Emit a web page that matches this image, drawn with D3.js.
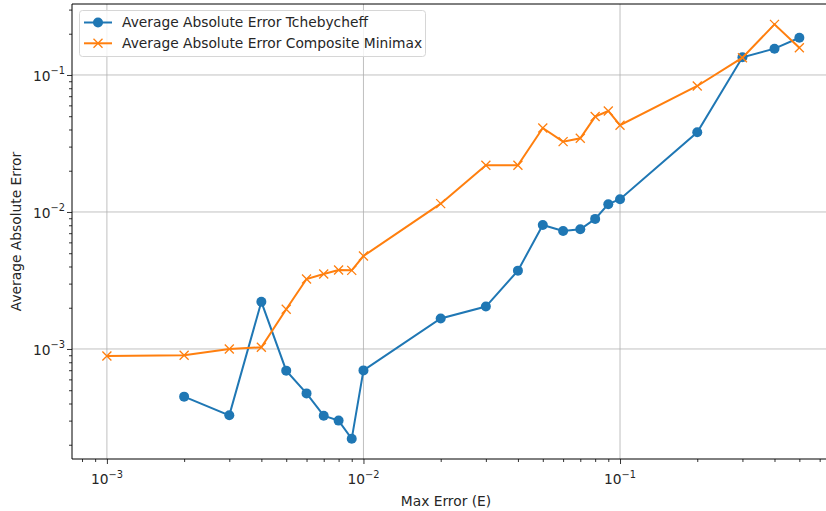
<!DOCTYPE html>
<html>
<head>
<meta charset="utf-8">
<script src="https://cdn.jsdelivr.net/npm/d3@7"></script>
<style>
  html, body { margin: 0; padding: 0; background: #fff; }
  svg { display: block; font-family: "DejaVu Sans", sans-serif; }
</style>
</head>
<body>
<svg id="chart" width="826" height="511"></svg>
<script>
// Max error thresholds (E) for each series
const xTcheb = [0.002, 0.003, 0.004, 0.005, 0.006, 0.007, 0.008, 0.009, 0.01,
                0.02, 0.03, 0.04, 0.05, 0.06, 0.07, 0.08, 0.09, 0.1, 0.2, 0.3, 0.4, 0.5];
const yTcheb = [4.49e-4, 3.28e-4, 2.21e-3, 6.95e-4, 4.74e-4, 3.26e-4, 3.0e-4, 2.21e-4, 6.98e-4,
                1.67e-3, 2.04e-3, 3.73e-3, 8.03e-3, 7.27e-3, 7.48e-3, 8.9e-3, 1.14e-2, 1.24e-2,
                3.82e-2, 0.1345, 0.1556, 0.187];

const xMinimax = [0.001, 0.002, 0.003, 0.004, 0.005, 0.006, 0.007, 0.008, 0.009, 0.01,
                  0.02, 0.03, 0.04, 0.05, 0.06, 0.07, 0.08, 0.09, 0.1, 0.2, 0.3, 0.4, 0.5];
const yMinimax = [8.89e-4, 8.99e-4, 1.0e-3, 1.03e-3, 1.95e-3, 3.24e-3, 3.53e-3, 3.77e-3, 3.75e-3, 4.77e-3,
                  1.15e-2, 2.19e-2, 2.19e-2, 4.1e-2, 3.26e-2, 3.45e-2, 4.97e-2, 5.46e-2, 4.3e-2,
                  8.31e-2, 0.1337, 0.234, 0.158];

const seriesNames = ["Average Absolute Error Tchebycheff", "Average Absolute Error Composite Minimax"];
const xMajorExps = [-3, -2, -1];
const yMajorExps = [-3, -2, -1];

const svg = d3.select("#chart");
const plotLeft = 72, plotRight = 834, plotTop = 4, plotBottom = 459;
const fontSize = 13.8;

const x = d3.scaleLog().domain([Math.pow(10, -3.136), Math.pow(10, -0.166)]).range([plotLeft, plotRight]);
const y = d3.scaleLog().domain([Math.pow(10, -3.803), Math.pow(10, -0.482)]).range([plotBottom, plotTop]);

const blue = "#1f77b4", orange = "#ff7f0e";

// minor tick values (2..9 x 10^k) inside each domain
function minorTicks(scale) {
  const [a, b] = scale.domain();
  const out = [];
  for (let k = Math.floor(Math.log10(a)); k <= Math.ceil(Math.log10(b)); k++) {
    for (let m = 2; m <= 9; m++) {
      const v = m * Math.pow(10, k);
      if (v >= a && v <= b) out.push(v);
    }
  }
  return out;
}

// grid lines on major decades
const grid = svg.append("g").attr("stroke", "#b0b0b0").attr("stroke-width", 0.8);
xMajorExps.forEach(e => {
  const px = x(Math.pow(10, e));
  grid.append("line").attr("x1", px).attr("x2", px).attr("y1", plotTop).attr("y2", plotBottom);
});
yMajorExps.forEach(e => {
  const py = y(Math.pow(10, e));
  grid.append("line").attr("x1", plotLeft).attr("x2", plotRight).attr("y1", py).attr("y2", py);
});

// axes
const xAxis = d3.axisBottom(x).tickValues(xMajorExps.map(e => Math.pow(10, e))).tickSize(5).tickFormat("");
const xMinor = d3.axisBottom(x).tickValues(minorTicks(x)).tickSize(3).tickFormat("");
const yAxis = d3.axisLeft(y).tickValues(yMajorExps.map(e => Math.pow(10, e))).tickSize(5).tickFormat("");
const yMinor = d3.axisLeft(y).tickValues(minorTicks(y)).tickSize(3).tickFormat("");

function styleAxis(g) {
  g.select(".domain").remove();
  g.selectAll(".tick line").attr("stroke", "#000").attr("stroke-width", 0.8);
}
svg.append("g").attr("transform", `translate(0,${plotBottom})`).call(xAxis).call(styleAxis);
svg.append("g").attr("transform", `translate(0,${plotBottom})`).call(xMinor).call(styleAxis);
svg.append("g").attr("transform", `translate(${plotLeft},0)`).call(yAxis).call(styleAxis);
svg.append("g").attr("transform", `translate(${plotLeft},0)`).call(yMinor).call(styleAxis);

// tick labels as 10^n
function powerLabel(g, px, py, exp, anchor) {
  const t = g.append("text").attr("x", px).attr("y", py).attr("text-anchor", anchor)
    .attr("font-size", fontSize).attr("fill", "#262626");
  t.append("tspan").text("10");
  t.append("tspan").attr("dy", -6.5).attr("font-size", 9.8).text("\u2212" + Math.abs(exp));
}
const lbl = svg.append("g");
xMajorExps.forEach(e => powerLabel(lbl, x(Math.pow(10, e)), 484, e, "middle"));
yMajorExps.forEach(e => powerLabel(lbl, 65, y(Math.pow(10, e)) + 6, e, "end"));

// spines
svg.append("g").attr("fill", "none").attr("stroke", "#000").attr("stroke-width", 1)
  .selectAll("line").data([
    [plotLeft, plotTop, plotLeft, plotBottom], [plotLeft, plotBottom, plotRight, plotBottom],
    [plotLeft, plotTop, plotRight, plotTop], [plotRight, plotTop, plotRight, plotBottom]
  ]).join("line")
  .attr("x1", d => d[0]).attr("y1", d => d[1]).attr("x2", d => d[2]).attr("y2", d => d[3]);

// axis titles
svg.append("text").attr("x", 446).attr("y", 506).attr("text-anchor", "middle")
  .attr("font-size", fontSize).attr("fill", "#262626").text("Max Error (E)");
svg.append("text").attr("transform", `translate(21,${(plotTop + plotBottom) / 2}) rotate(-90)`)
  .attr("text-anchor", "middle").attr("font-size", fontSize).attr("fill", "#262626").text("Average Absolute Error");

// series
const line = d3.line().x(d => x(d[0])).y(d => y(d[1]));
const tcheb = xTcheb.map((v, i) => [v, yTcheb[i]]);
const minimax = xMinimax.map((v, i) => [v, yMinimax[i]]);

const plot = svg.append("g");
plot.append("path").datum(tcheb).attr("d", line).attr("fill", "none").attr("stroke", blue).attr("stroke-width", 2);
plot.selectAll("circle.tcheb").data(tcheb).join("circle").attr("class", "tcheb")
  .attr("cx", d => x(d[0])).attr("cy", d => y(d[1])).attr("r", 5).attr("fill", blue);

plot.append("path").datum(minimax).attr("d", line).attr("fill", "none").attr("stroke", orange).attr("stroke-width", 2);
const xm = 4.5;
plot.selectAll("path.cross").data(minimax).join("path").attr("class", "cross")
  .attr("d", d => {
    const cx = x(d[0]), cy = y(d[1]);
    return `M${cx - xm},${cy - xm}L${cx + xm},${cy + xm}M${cx - xm},${cy + xm}L${cx + xm},${cy - xm}`;
  })
  .attr("stroke", orange).attr("stroke-width", 1.3).attr("fill", "none");

// legend
const lg = svg.append("g");
lg.append("rect").attr("x", 79.5).attr("y", 10.5).attr("width", 346).attr("height", 46).attr("rx", 3)
  .attr("fill", "#fff").attr("fill-opacity", 0.8).attr("stroke", "#d6d6d6").attr("stroke-width", 1);
[[blue, "circle"], [orange, "cross"]].forEach((s, i) => {
  const cy = 22.5 + i * 20.8;
  lg.append("line").attr("x1", 84).attr("x2", 112).attr("y1", cy).attr("y2", cy)
    .attr("stroke", s[0]).attr("stroke-width", 2);
  if (s[1] === "circle") {
    lg.append("circle").attr("cx", 98).attr("cy", cy).attr("r", 5).attr("fill", s[0]);
  } else {
    lg.append("path").attr("d", `M${98 - xm},${cy - xm}L${98 + xm},${cy + xm}M${98 - xm},${cy + xm}L${98 + xm},${cy - xm}`)
      .attr("stroke", s[0]).attr("stroke-width", 1.3);
  }
  lg.append("text").attr("x", 122).attr("y", cy + 4.8).attr("font-size", fontSize).attr("fill", "#262626")
    .text(seriesNames[i]);
});
</script>
</body>
</html>
